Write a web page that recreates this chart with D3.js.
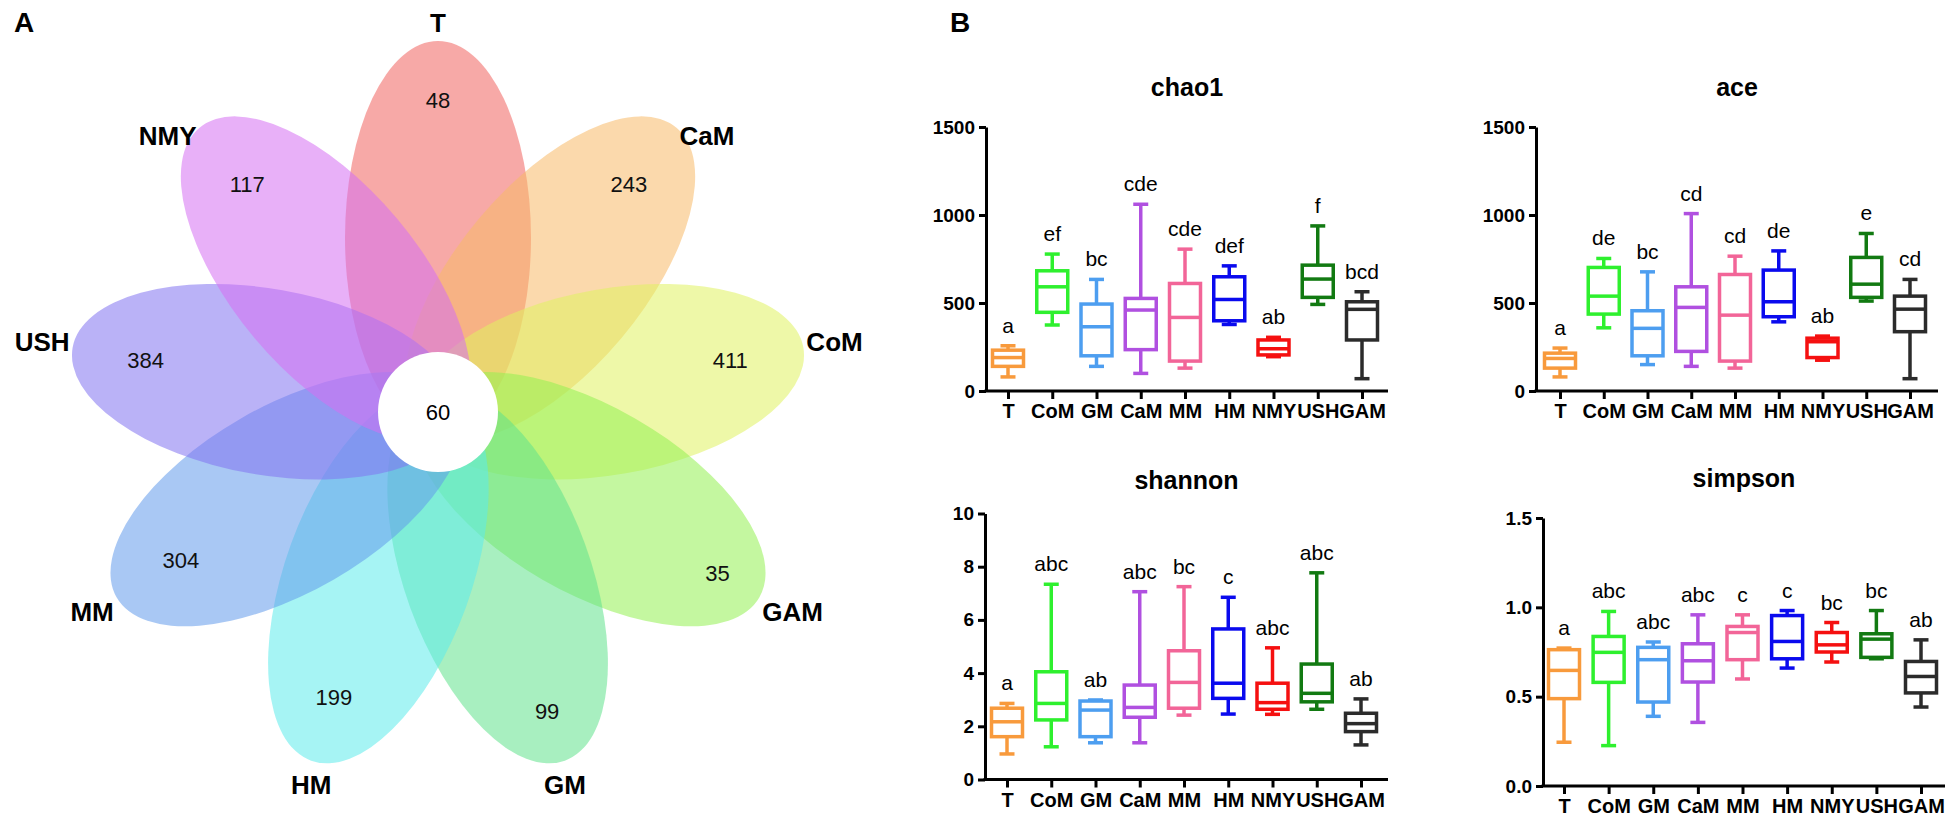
<!DOCTYPE html>
<html><head><meta charset="utf-8">
<script src="https://cdn.jsdelivr.net/npm/d3@7"></script>
<style>
body{margin:0;background:#fff;}
text{font-family:Arial,"Liberation Sans",sans-serif;}
</style>
</head><body>
<svg id="c" width="1950" height="821"></svg>
<script>
// ---------- Panel A data ----------
const petalSets   = ["T","CaM","CoM","GAM","GM","HM","MM","USH","NMY"];
const petalCounts = [48,243,411,35,99,199,304,384,117];
const coreCount   = 60;
const petalColors = ["#F1635F","#F8BA68","#E0F261","#94F052","#61E28C","#5DEBEB","#639BEB","#8273F0","#D56FF2"];

// ---------- Panel B data ----------
const groups      = ["T","CoM","GM","CaM","MM","HM","NMY","USH","GAM"];
const groupColors = ["#F89A3C","#2EF02E","#4D9EF0","#B050E0","#F26598","#0A0AEE","#F51010","#127A12","#2B2B2B"];
// [min, q1, median, q3, max]
const chao1Stats = [[80,140,190,232,257],[375,447,592,683,778],[140,200,365,494,634],[100,235,460,526,1061],
                    [130,170,418,611,806],[378,399,520,649,711],[195,205,240,290,305],[492,532,636,715,938],[70,290,464,507,564]];
const chao1Letters = ["a","ef","bc","cde","cde","def","ab","f","bcd"];
const aceStats = [[80,130,185,215,244],[359,437,539,702,753],[150,200,356,456,677],[140,225,475,592,1008],
                  [130,170,431,662,766],[393,422,507,687,796],[175,190,280,300,312],[511,532,607,759,895],[70,337,465,539,634]];
const aceLetters = ["a","de","bc","cd","cd","de","ab","e","cd"];
const shannonStats = [[0.96,1.61,2.17,2.68,2.86],[1.23,2.24,2.86,4.05,7.34],[1.38,1.61,2.61,2.95,2.99],[1.38,2.34,2.71,3.55,7.06],
                      [2.42,2.68,3.65,4.84,7.25],[2.46,3.05,3.62,5.66,6.85],[2.45,2.64,2.89,3.62,4.95],[2.64,2.92,3.24,4.34,7.77],[1.30,1.80,2.10,2.49,3.03]];
const shannonLetters = ["a","abc","ab","abc","bc","c","abc","abc","ab"];
const simpsonStats = [[0.245,0.489,0.647,0.763,0.772],[0.226,0.580,0.748,0.837,0.977],[0.390,0.470,0.707,0.776,0.806],[0.356,0.582,0.701,0.796,0.958],
                      [0.599,0.707,0.859,0.893,0.958],[0.660,0.712,0.809,0.954,0.982],[0.694,0.750,0.790,0.859,0.915],[0.712,0.720,0.822,0.852,0.982],[0.442,0.521,0.613,0.697,0.818]];
const simpsonLetters = ["a","abc","abc","abc","c","c","bc","bc","ab"];

const chao1Ticks = [0,500,1000,1500];
const shannonTicks = [0,2,4,6,8,10];
const simpsonTicks = [0,0.5,1.0,1.5];

const svg = d3.select("#c");

// ---------- Panel A : flower ----------
(function(){
  const cx = 438, cy = 412;
  const n = petalSets.length;
  const ang = d3.scaleLinear().domain([0, n]).range([0, 360]);
  const dist = d3.scaleLinear().domain([0, 1]).range([0, 371]); // 1 = petal tip
  // radial position of each count label (layout only)
  const numPos = [0.84, 0.8, 0.8, 0.87, 0.86, 0.82, 0.8, 0.8, 0.8];
  const g = svg.append("g");
  petalSets.forEach((s, i) => {
    const a = ang(i), r = a * Math.PI / 180;
    const dc = dist(0.47);
    const ex = cx + dc * Math.sin(r), ey = cy - dc * Math.cos(r);
    g.append("ellipse").attr("cx", ex).attr("cy", ey)
      .attr("rx", 93).attr("ry", dist(0.53))
      .attr("transform", `rotate(${a},${ex},${ey})`)
      .attr("fill", petalColors[i]).attr("fill-opacity", 0.55);
  });
  petalSets.forEach((s, i) => {
    const r = ang(i) * Math.PI / 180, sn = Math.sin(r), cs = Math.cos(r);
    const dn = dist(numPos[i]);
    g.append("text").attr("x", cx + dn * sn).attr("y", cy - dn * cs)
      .attr("text-anchor", "middle").attr("dominant-baseline", "central")
      .attr("font-size", 22).attr("fill", "#111").text(petalCounts[i]);
    const tx = cx + dist(1) * sn, ty = cy - dist(1) * cs;
    let lx, ly, anchor;
    if (Math.abs(sn) < 0.5) {
      anchor = "middle"; lx = tx; ly = cs > 0 ? ty - 18 : ty + 24;
    } else {
      anchor = sn > 0 ? "start" : "end";
      lx = tx + (sn > 0 ? 3 : -3);
      ly = ty + (cs > 0.5 ? 8 : (cs > -0.2 ? -6 : 14));
    }
    g.append("text").attr("x", lx).attr("y", ly)
      .attr("text-anchor", anchor).attr("dominant-baseline", "central")
      .attr("font-size", 26).attr("font-weight", "bold").attr("fill", "#000").text(s);
  });
  g.append("circle").attr("cx", cx).attr("cy", cy).attr("r", 60).attr("fill", "#fff");
  g.append("text").attr("x", cx).attr("y", cy).attr("text-anchor", "middle")
    .attr("dominant-baseline", "central").attr("font-size", 22).text(coreCount);
  svg.append("text").attr("x", 14).attr("y", 32).attr("font-size", 28).attr("font-weight", "bold").text("A");
  svg.append("text").attr("x", 950).attr("y", 32).attr("font-size", 28).attr("font-weight", "bold").text("B");
})();

// ---------- Panel B : box plots ----------
function boxPlot(o){
  const g = svg.append("g");
  const y = d3.scaleLinear().domain(o.domain).range([o.y0, o.y1]);
  const x = d3.scalePoint().domain(groups).range([o.xFirst, o.xLast]);
  const bw = 31, cw = 15;

  g.append("text").attr("x", (o.axisX + o.axisEnd) / 2).attr("y", o.titleY)
    .attr("text-anchor", "middle").attr("font-size", 25).attr("font-weight", "bold").text(o.title);

  groups.forEach((k, i) => {
    const s = o.stats[i], c = groupColors[i], xc = x(k);
    const bg = g.append("g").attr("stroke", c).attr("stroke-width", 3.5).attr("fill", "none");
    bg.append("line").attr("x1", xc).attr("x2", xc).attr("y1", y(s[0])).attr("y2", y(s[1]));
    bg.append("line").attr("x1", xc).attr("x2", xc).attr("y1", y(s[3])).attr("y2", y(s[4]));
    bg.append("line").attr("x1", xc - cw/2).attr("x2", xc + cw/2).attr("y1", y(s[0])).attr("y2", y(s[0]));
    bg.append("line").attr("x1", xc - cw/2).attr("x2", xc + cw/2).attr("y1", y(s[4])).attr("y2", y(s[4]));
    bg.append("rect").attr("x", xc - bw/2).attr("width", bw).attr("y", y(s[3])).attr("height", y(s[1]) - y(s[3]));
    bg.append("line").attr("x1", xc - bw/2).attr("x2", xc + bw/2).attr("y1", y(s[2])).attr("y2", y(s[2]));
    g.append("text").attr("x", xc).attr("y", y(s[4]) - 13).attr("text-anchor", "middle")
      .attr("font-size", 21).attr("fill", "#000").text(o.letters[i]);
  });

  const ya = g.append("g").attr("transform", `translate(${o.axisX},0)`)
    .call(d3.axisLeft(y).tickValues(o.ticks).tickSize(7).tickSizeOuter(0).tickPadding(4).tickFormat(o.fmt));
  ya.select(".domain").attr("stroke-width", 3);
  ya.selectAll(".tick line").attr("stroke-width", 3);
  ya.selectAll(".tick text").attr("font-size", 19).attr("font-weight", "bold").attr("font-family", "Arial,Liberation Sans,sans-serif").attr("fill", "#000");

  const xa = g.append("g").attr("transform", `translate(0,${o.y0})`)
    .call(d3.axisBottom(x).tickSize(8).tickSizeOuter(0).tickPadding(5));
  xa.select(".domain").remove();
  xa.append("line").attr("x1", o.axisX - 1.5).attr("x2", o.axisEnd).attr("stroke", "#000").attr("stroke-width", 3);
  xa.selectAll(".tick line").attr("stroke-width", 3);
  xa.selectAll(".tick text").attr("font-size", 20).attr("font-weight", "bold").attr("font-family", "Arial,Liberation Sans,sans-serif").attr("fill", "#000");
}

boxPlot({title:"chao1", stats:chao1Stats, letters:chao1Letters, domain:[0,1500], ticks:chao1Ticks, fmt:d3.format("d"),
         y0:391, y1:127, axisX:986, axisEnd:1388, xFirst:1008, xLast:1362, titleY:96});
boxPlot({title:"ace", stats:aceStats, letters:aceLetters, domain:[0,1500], ticks:chao1Ticks, fmt:d3.format("d"),
         y0:391, y1:127, axisX:1536, axisEnd:1938, xFirst:1560, xLast:1910, titleY:96});
boxPlot({title:"shannon", stats:shannonStats, letters:shannonLetters, domain:[0,10], ticks:shannonTicks, fmt:d3.format("d"),
         y0:779.5, y1:513.5, axisX:985, axisEnd:1388, xFirst:1007, xLast:1361, titleY:489});
boxPlot({title:"simpson", stats:simpsonStats, letters:simpsonLetters, domain:[0,1.5], ticks:simpsonTicks, fmt:d3.format(".1f"),
         y0:786, y1:518, axisX:1543, axisEnd:1945, xFirst:1564, xLast:1921, titleY:487});
</script>
</body></html>
